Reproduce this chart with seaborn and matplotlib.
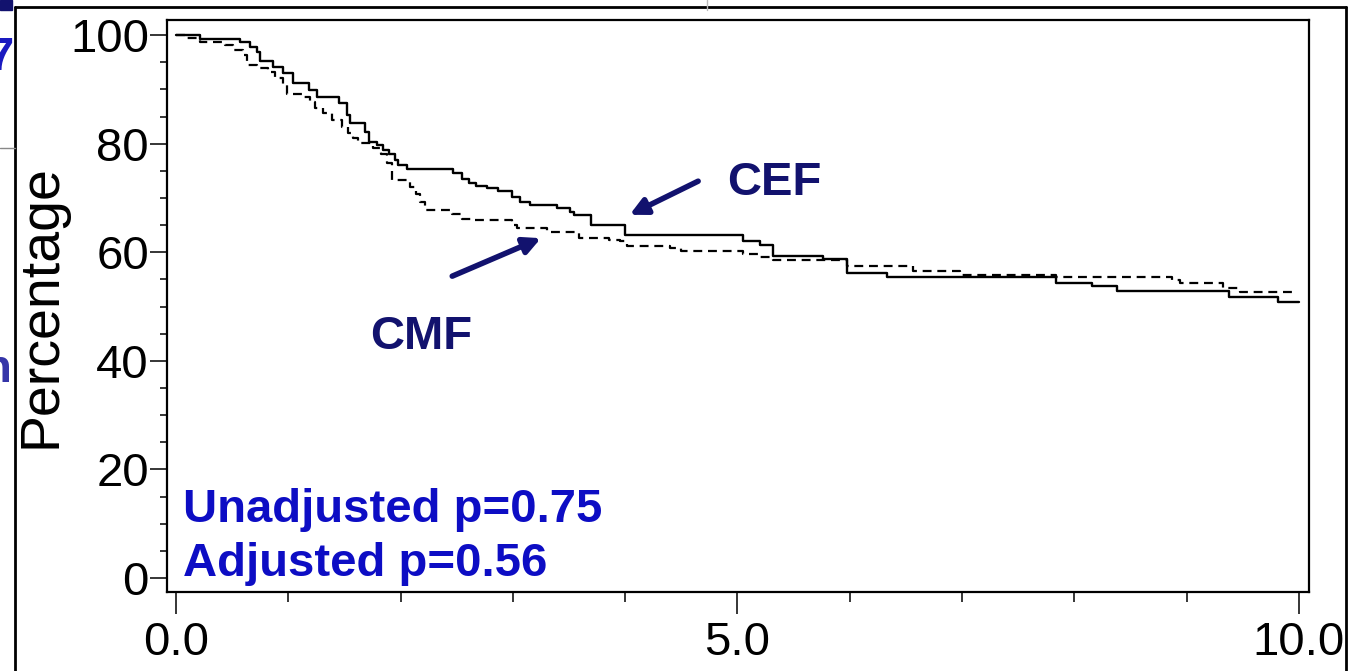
import numpy as np
import pandas as pd
import matplotlib
matplotlib.use("Agg")
import matplotlib.pyplot as plt
from matplotlib import font_manager
from matplotlib.lines import Line2D
from matplotlib.patches import Rectangle
from matplotlib.ticker import MultipleLocator
import seaborn as sns

# Kaplan-Meier style step data (years, percentage)
cef_time = [0.00, 0.21, 0.57, 0.66, 0.72, 0.75, 0.86, 0.95, 1.04, 1.18, 1.26, 1.45,
            1.52, 1.55, 1.68, 1.72, 1.79, 1.84, 1.90, 1.95, 1.98, 2.06, 2.47, 2.55,
            2.61, 2.67, 2.77, 2.87, 2.99, 3.06, 3.15, 3.39, 3.51, 3.54, 3.70, 4.00,
            5.05, 5.20, 5.32, 5.76, 5.98, 6.33, 7.84, 8.16, 8.38, 9.38, 9.81, 10.00]
cef_surv = [100.0, 99.3, 98.7, 97.8, 96.9, 95.3, 94.2, 93.0, 91.1, 89.9, 88.6, 87.5,
            85.3, 83.9, 82.2, 80.4, 79.7, 78.8, 78.2, 77.0, 76.1, 75.4, 74.6, 73.5,
            72.8, 72.3, 71.8, 71.2, 70.2, 69.3, 68.7, 68.1, 67.4, 66.8, 65.0, 63.2,
            62.0, 61.3, 59.3, 58.7, 56.2, 55.5, 54.4, 53.7, 52.9, 51.8, 50.8, 50.8]

cmf_time = [0.00, 0.10, 0.21, 0.44, 0.51, 0.60, 0.63, 0.72, 0.82, 0.88, 0.95, 0.99,
            1.12, 1.19, 1.24, 1.31, 1.39, 1.48, 1.53, 1.58, 1.62, 1.75, 1.83, 1.88,
            1.92, 2.08, 2.14, 2.17, 2.22, 2.46, 2.55, 2.63, 2.99, 3.04, 3.30, 3.59,
            3.86, 3.95, 4.02, 4.40, 4.50, 5.05, 5.20, 5.32, 5.98, 6.56, 6.98, 7.84,
            8.87, 8.94, 9.32, 9.48, 9.95]
cmf_surv = [100.0, 99.5, 98.8, 98.2, 97.2, 96.3, 94.5, 93.9, 93.3, 92.1, 90.8, 89.2,
            88.6, 87.7, 86.5, 85.6, 84.3, 83.1, 81.9, 81.0, 80.1, 79.2, 78.2, 76.4,
            73.3, 72.1, 70.8, 69.3, 67.8, 67.1, 66.2, 65.9, 65.0, 64.4, 63.7, 62.7,
            62.2, 62.0, 61.2, 60.8, 60.2, 59.7, 59.1, 58.6, 57.5, 56.6, 55.9, 55.5,
            54.9, 54.3, 53.5, 52.7, 52.7]

x_ticks = [0.0, 5.0, 10.0]
x_tick_labels = ["0.0", "5.0", "10.0"]
y_ticks = [0, 20, 40, 60, 80, 100]
y_label = "Percentage"
p_texts = ["Unadjusted p=0.75", "Adjusted p=0.56"]

NAVY = "#12126e"
BLUE = "#0d0dc4"

sns.set_style("ticks")
names = {f.name for f in font_manager.fontManager.ttflist}
base_font = "Liberation Sans" if "Liberation Sans" in names else "DejaVu Sans"
narrow_font = "Liberation Sans Narrow" if "Liberation Sans Narrow" in names else base_font
plt.rcParams["font.family"] = [base_font, "DejaVu Sans"]

df_cef = pd.DataFrame({"time": cef_time, "surv": cef_surv})
df_cmf = pd.DataFrame({"time": cmf_time, "surv": cmf_surv})

fig = plt.figure(figsize=(13.59, 6.71), dpi=100)
ax = fig.add_axes([0.1229, 0.1177, 0.8403, 0.8525])

sns.lineplot(data=df_cef, x="time", y="surv", ax=ax, color="black", lw=1.7,
             drawstyle="steps-post", estimator=None)
sns.lineplot(data=df_cmf, x="time", y="surv", ax=ax, color="black", lw=1.6,
             drawstyle="steps-post", estimator=None, linestyle=(0, (4, 2.6)))

ax.set_xlim(-0.08, 10.09)
ax.set_ylim(-2.6, 102.8)

for sp in ax.spines.values():
    sp.set_linewidth(1.6)
    sp.set_color("black")

ax.set_xticks(x_ticks)
ax.set_xticklabels(x_tick_labels)
ax.xaxis.set_minor_locator(MultipleLocator(1.0))
ax.set_yticks(y_ticks)
ax.yaxis.set_minor_locator(MultipleLocator(5))
ax.tick_params(axis="both", which="both", color="black", labelcolor="black")
ax.tick_params(axis="x", which="major", length=16, width=1.1, pad=5)
ax.tick_params(axis="x", which="minor", length=7, width=1.1)
ax.tick_params(axis="y", which="major", length=12, width=1.1, pad=1)
ax.tick_params(axis="y", which="minor", length=5, width=1.1)
tick_size = 40 if narrow_font != base_font else 34
for lab in ax.get_xticklabels() + ax.get_yticklabels():
    lab.set_fontfamily([narrow_font, "DejaVu Sans"])
    lab.set_fontsize(tick_size)

ax.set_xlabel("")
ax.set_ylabel(y_label, fontsize=40, labelpad=2, color="black")

# group labels and arrows
ax.text(5.33, 72.7, "CEF", fontsize=34, fontweight="bold", color=NAVY,
        ha="center", va="center")
ax.text(2.18, 44.4, "CMF", fontsize=34, fontweight="bold", color=NAVY,
        ha="center", va="center")
arrow = dict(arrowstyle="-|>,head_length=1.0,head_width=0.5", lw=4, color=NAVY,
             shrinkA=0, shrinkB=0)
ax.annotate("", xy=(4.04, 66.9), xytext=(4.65, 73.1), arrowprops=arrow)
ax.annotate("", xy=(3.25, 62.6), xytext=(2.46, 55.6), arrowprops=arrow)

ax.text(0.06, 10.3, p_texts[0], fontsize=34, fontweight="bold", color=BLUE,
        ha="left", va="baseline")
ax.text(0.06, 0.4, p_texts[1], fontsize=34, fontweight="bold", color=BLUE,
        ha="left", va="baseline")

# slide background fragments around the chart
fig.add_artist(Line2D([0.011, 0.011], [0.0, 0.9896], color="black", lw=2))
fig.add_artist(Line2D([0.011, 0.9904], [0.9896, 0.9896], color="black", lw=2))
fig.add_artist(Line2D([0.9904, 0.9904], [0.0, 0.9896], color="black", lw=2))
fig.add_artist(Line2D([0.0, 0.011], [0.779, 0.779], color="#888888", lw=1))
fig.add_artist(Line2D([0.52, 0.52], [0.985, 1.0], color="#bbbbbb", lw=1))
fig.add_artist(Rectangle((0.0, 0.985), 0.009, 0.015, color=NAVY))
fig.text(-0.009, 0.895, "7", fontsize=34, fontweight="bold", color="#1a1ac0",
         ha="left", va="baseline")
fig.text(-0.013, 0.43, "n", fontsize=34, fontweight="bold", color="#3535a8",
         ha="left", va="baseline")

fig.savefig("out.png", dpi=100)
